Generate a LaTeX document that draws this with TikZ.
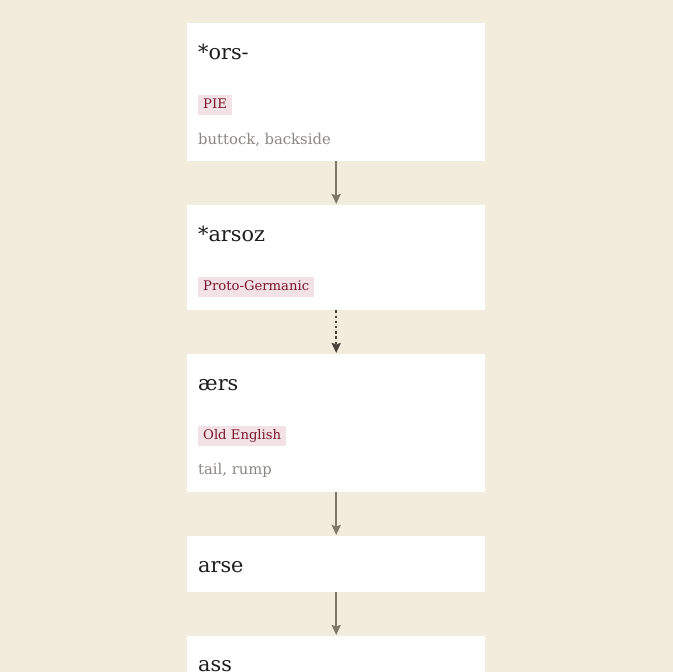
\documentclass[tikz,border=0pt]{standalone}
\usepackage{fontspec}
\setmainfont{DejaVu Serif}
\usetikzlibrary{arrows.meta}
\definecolor{bg}{RGB}{242,236,220}
\definecolor{tagbg}{RGB}{243,226,229}
\definecolor{tagfg}{RGB}{122,22,44}
\definecolor{gloss}{RGB}{138,136,132}
\definecolor{ink}{RGB}{30,30,30}
\definecolor{arr}{RGB}{125,120,106}
\definecolor{darr}{RGB}{72,67,56}
\tikzset{
  card/.style={fill=white, draw=none, minimum width=298pt, inner sep=0pt, anchor=north west},
  word/.style={anchor=base west, inner sep=0pt, text=ink, font=\fontsize{20.8}{24}\selectfont},
  lang/.style={anchor=north west, fill=tagbg, text=tagfg, inner xsep=5pt, inner ysep=0pt,
    text height=13.5pt, text depth=6pt, font=\fontsize{13.2}{15}\selectfont},
  glossy/.style={anchor=base west, inner sep=0pt, text=gloss, font=\fontsize{14.8}{17}\selectfont},
  link/.style={draw=arr, line width=2.2pt, -{Stealth[length=10pt,width=9pt,inset=1.5pt]}, shorten >=1pt},
  dlink/.style={draw=darr, line width=2.4pt, dash pattern=on 2.4pt off 2.8pt, -{Stealth[length=10pt,width=9pt,inset=1.5pt]}, shorten >=1pt},
}
\begin{document}
\begin{tikzpicture}[x=1pt,y=-1pt]
\useasboundingbox (0,0) rectangle (672,672);
\fill[bg] (-3,-3) rectangle (675,675);
% cards
\node[card, minimum height=138pt] (b1) at (187,23) {};
\node[card, minimum height=105pt] (b2) at (187,205) {};
\node[card, minimum height=138pt] (b3) at (187,354) {};
\node[card, minimum height=56pt]  (b4) at (187,536) {};
\node[card, minimum height=80pt]  (b5) at (187,636) {};
% card 1
\node[word] (w1) at (198,59) {*ors-};
\node[lang] (l1) at (198,95) {PIE};
\node[glossy] (g1) at (198,144) {buttock, backside};
% card 2
\node[word] (w2) at (198,241) {*arsoz};
\node[lang] (l2) at (198,277) {Proto-Germanic};
% card 3
\node[word] (w3) at (198,390) {ærs};
\node[lang] (l3) at (198,426) {Old English};
\node[glossy] (g3) at (198,474) {tail, rump};
% card 4
\node[word] (w4) at (198,572) {arse};
% card 5
\node[word] (w5) at (198,671) {ass};
% links
\draw[link] (b1.south) -- (b2.north);
\draw[dlink] (b2.south) -- (b3.north);
\draw[link] (b3.south) -- (b4.north);
\draw[link] (b4.south) -- (b5.north);
\end{tikzpicture}
\end{document}
